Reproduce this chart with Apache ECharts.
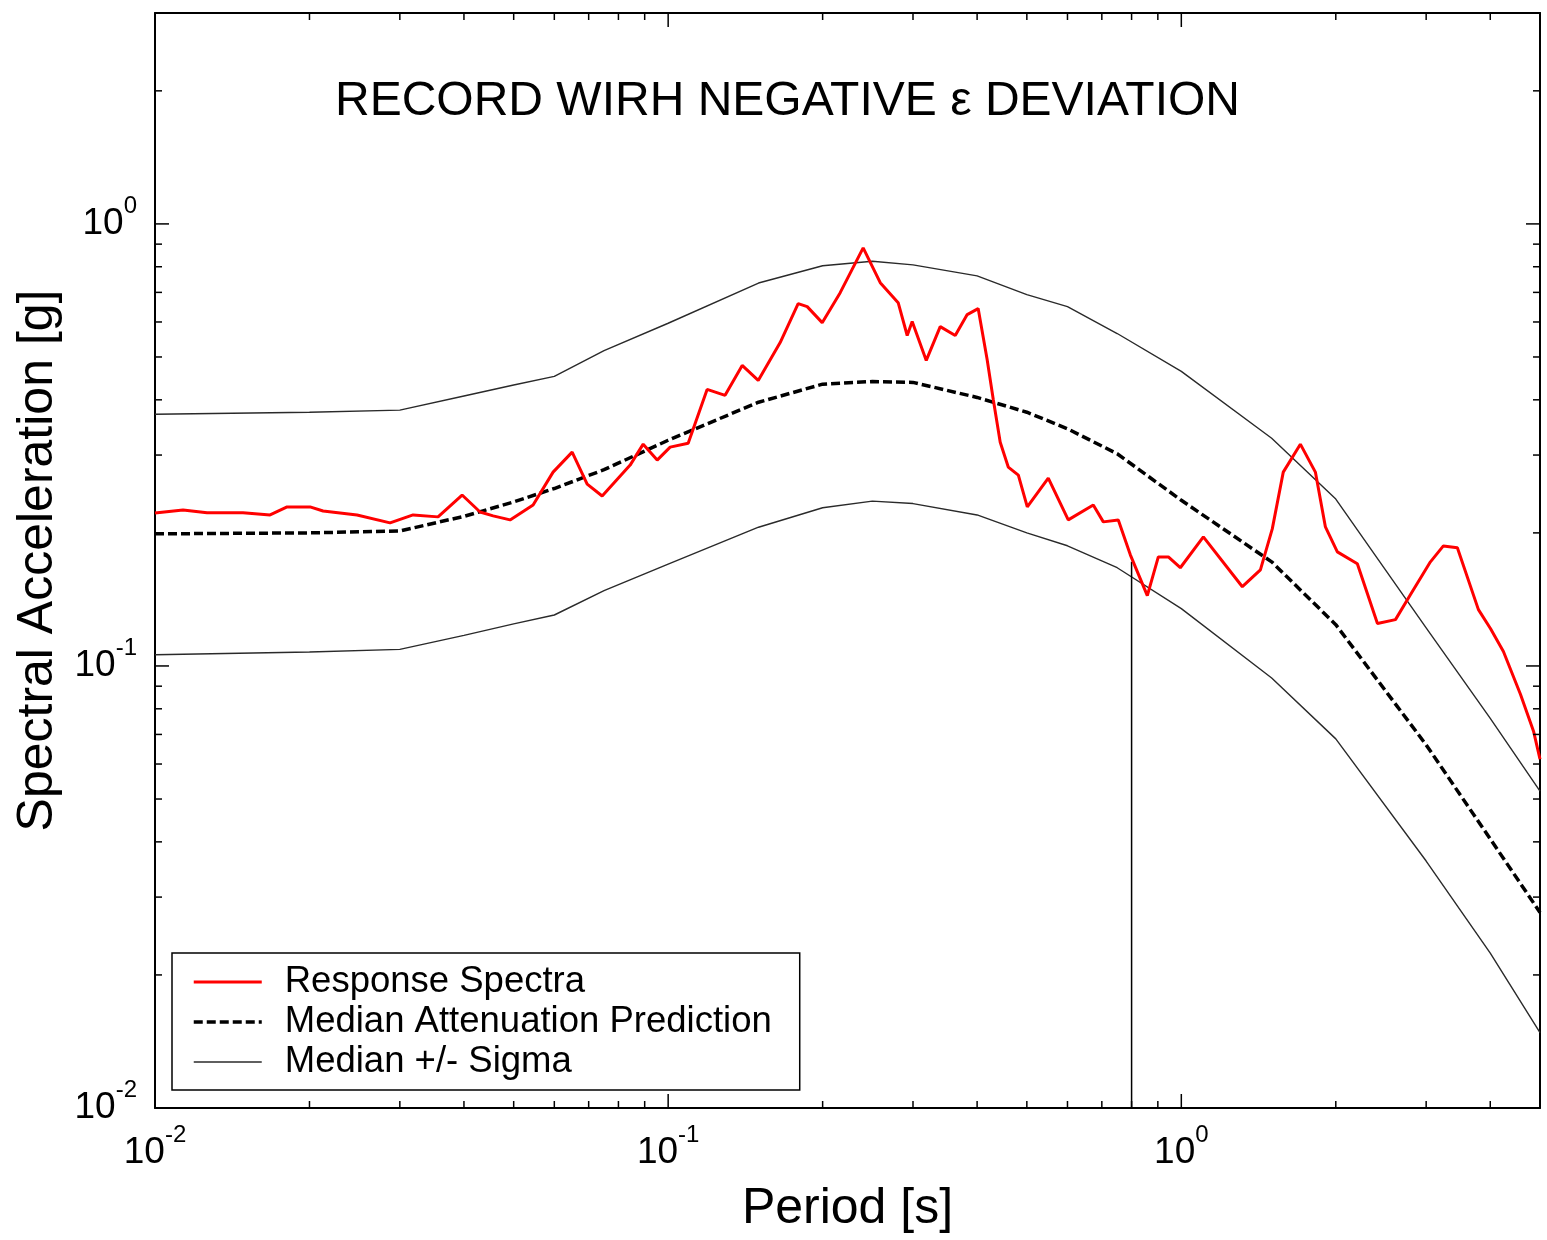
<!DOCTYPE html>
<html>
<head>
<meta charset="utf-8">
<title>Record with negative epsilon deviation</title>
<script src="https://cdn.jsdelivr.net/npm/echarts@6/dist/echarts.min.js"></script>
<style>
  html, body { margin: 0; padding: 0; background: #fff; }
  #chart { width: 1547px; height: 1240px; }
</style>
</head>
<body>
<div id="chart"></div>
<script>
// recorded response spectrum (period [s], Sa [g])
const recordPeriod = [0.01, 0.01134, 0.01263, 0.01484, 0.01676, 0.01809, 0.02005, 0.02126, 0.02476, 0.02871,
  0.03184, 0.03561, 0.03967, 0.043, 0.0456, 0.0492, 0.05455, 0.05967, 0.065, 0.06953,
  0.07437, 0.08432, 0.0894, 0.09519, 0.1009, 0.1094, 0.1191, 0.1291, 0.1394, 0.1498,
  0.1653, 0.1792, 0.1866, 0.1996, 0.2164, 0.2399, 0.259, 0.2807, 0.2923, 0.2989,
  0.3184, 0.339, 0.3626, 0.3826, 0.4019, 0.4184, 0.43, 0.4437, 0.46, 0.4813,
  0.501, 0.5505, 0.6021, 0.6737, 0.7047, 0.7537, 0.7955, 0.8585, 0.902, 0.9434,
  0.9955, 1.104, 1.315, 1.426, 1.504, 1.58, 1.706, 1.825, 1.909, 2.014,
  2.203, 2.411, 2.614, 2.795, 3.058, 3.241, 3.451, 3.793, 4.003, 4.243,
  4.58, 4.857, 5.0];
const recordSa = [0.2219, 0.2254, 0.222, 0.222, 0.2196, 0.229, 0.229, 0.2242, 0.2196, 0.2107,
  0.2196, 0.2174, 0.2436, 0.223, 0.2185, 0.214, 0.2312, 0.2745, 0.3046, 0.2579,
  0.2424, 0.2847, 0.3175, 0.2922, 0.3126, 0.3191, 0.4222, 0.4095, 0.4784, 0.4426,
  0.5391, 0.6601, 0.65, 0.5979, 0.6989, 0.8828, 0.7362, 0.6635, 0.5592, 0.6012,
  0.4911, 0.5856, 0.5592, 0.6235, 0.6433, 0.4936, 0.4011, 0.3208, 0.2818, 0.2703,
  0.229, 0.2661, 0.214, 0.2312, 0.2118, 0.214, 0.1784, 0.1442, 0.1765, 0.1765,
  0.1668, 0.1959, 0.1511, 0.165, 0.2042, 0.2745, 0.3175, 0.2745, 0.2063, 0.1812,
  0.1703, 0.1247, 0.1273, 0.1449, 0.172, 0.1869, 0.185, 0.1341, 0.1215, 0.1078,
  0.0863, 0.0712, 0.0615];

// attenuation model
const modelPeriod = [0.01, 0.02, 0.03, 0.04, 0.05, 0.06, 0.075, 0.1, 0.15, 0.2, 0.25,
  0.3, 0.4, 0.5, 0.6, 0.75, 1.0, 1.5, 2.0, 3.0, 4.0, 5.0];
const medianSa = [0.199, 0.2, 0.202, 0.218, 0.235, 0.252, 0.278, 0.324, 0.395, 0.434, 0.44,
  0.438, 0.405, 0.375, 0.344, 0.302, 0.237, 0.172, 0.124, 0.0663, 0.0406, 0.0277];
const plusSigmaSa = [0.371, 0.375, 0.379, 0.408, 0.432, 0.452, 0.517, 0.596, 0.735, 0.804, 0.823,
  0.808, 0.763, 0.692, 0.65, 0.565, 0.464, 0.3275, 0.2385, 0.122, 0.0761, 0.0521];
const minusSigmaSa = [0.106, 0.1075, 0.109, 0.1173, 0.1245, 0.1304, 0.148, 0.17, 0.206, 0.228, 0.236,
  0.233, 0.2196, 0.2, 0.187, 0.1668, 0.1348, 0.0939, 0.0684, 0.0362, 0.0224, 0.0148];

// vertical marker at the period of interest
const markerPeriod = [0.8, 0.8];
const markerSa = [0.01, 0.172];

// axis ticks
const majorTicks = [0.01, 0.1, 1];
const minorTicksX = [0.02, 0.03, 0.04, 0.05, 0.06, 0.07, 0.08, 0.09,
  0.2, 0.3, 0.4, 0.5, 0.6, 0.7, 0.8, 0.9, 2, 3, 4];
const minorTicksY = [0.02, 0.03, 0.04, 0.05, 0.06, 0.07, 0.08, 0.09,
  0.2, 0.3, 0.4, 0.5, 0.6, 0.7, 0.8, 0.9, 2];

const font = "'Liberation Sans', Arial, sans-serif";
const zip = (xs, ys) => xs.map((x, i) => [x, ys[i]]);

// 10^n labels, blank for anything that is not a power of ten
const powerLabel = (v) => {
  const lg = Math.log10(v);
  const p = Math.round(lg);
  if (Math.abs(lg - p) > 1e-6) return '';
  return '{b|10}{s|' + p + '}';
};
const labelRich = {
  b: { fontSize: 37, lineHeight: 60, fontFamily: font, color: '#000' },
  s: { fontSize: 24, lineHeight: 26, verticalAlign: 'top', fontFamily: font, color: '#000' }
};

// [x, y, kind(0 = x tick, 1 = y tick), length]
const tickData = [
  ...majorTicks.map(v => [v, 1, 0, 14]),
  ...minorTicksX.map(v => [v, 1, 0, 7]),
  ...majorTicks.map(v => [1, v, 1, 14]),
  ...minorTicksY.map(v => [1, v, 1, 7])
];

const axisLine = { show: true, onZero: false, lineStyle: { color: '#000', width: 2 } };

const chart = echarts.init(document.getElementById('chart'), null, { renderer: 'canvas' });

const option = {
  animation: false,
  backgroundColor: '#fff',
  title: {
    text: 'RECORD WIRH NEGATIVE ε DEVIATION',
    left: 335,
    top: 78,
    padding: 0,
    textStyle: { fontSize: 48, fontWeight: 'normal', fontFamily: font, color: '#000' }
  },
  grid: { left: 155, right: 7, top: 13, bottom: 132, containLabel: false, outerBoundsMode: 'none' },
  legend: {
    data: ['Response Spectra', 'Median Attenuation Prediction', 'Median +/- Sigma'],
    orient: 'vertical',
    left: 172,
    top: 953,
    padding: [9, 28, 8, 20],
    itemGap: 0,
    itemWidth: 68,
    itemHeight: 14,
    backgroundColor: '#fff',
    borderColor: '#000',
    borderWidth: 1.5,
    borderRadius: 0,
    selectedMode: false,
    itemStyle: { color: 'rgba(0,0,0,0)', borderWidth: 0 },
    lineStyle: { width: 'inherit' },
    textStyle: { fontSize: 36.5, fontFamily: font, color: '#000', lineHeight: 40, padding: [0, 0, 0, 18] }
  },
  xAxis: [
    {
      type: 'log', logBase: 10, min: 0.01, max: 5, position: 'bottom',
      axisLine: axisLine,
      axisTick: { show: false },
      minorTick: { show: false },
      splitLine: { show: false },
      axisLabel: { margin: 15, formatter: powerLabel, rich: labelRich, showMinLabel: true, showMaxLabel: true },
      name: 'Period [s]',
      nameLocation: 'middle',
      nameGap: 76,
      nameTextStyle: { fontSize: 50, fontFamily: font, color: '#000' }
    },
    {
      type: 'log', logBase: 10, min: 0.01, max: 5, position: 'top',
      axisLine: axisLine,
      axisTick: { show: false },
      axisLabel: { show: false },
      splitLine: { show: false }
    }
  ],
  yAxis: [
    {
      type: 'log', logBase: 10, min: 0.01, max: 3, position: 'left',
      axisLine: axisLine,
      axisTick: { show: false },
      minorTick: { show: false },
      splitLine: { show: false },
      axisLabel: { margin: 18, formatter: powerLabel, rich: labelRich, showMinLabel: true, showMaxLabel: true },
      name: 'Spectral Acceleration [g]',
      nameLocation: 'middle',
      nameGap: 90,
      nameTextStyle: { fontSize: 50, fontFamily: font, color: '#000' }
    },
    {
      type: 'log', logBase: 10, min: 0.01, max: 3, position: 'right',
      axisLine: axisLine,
      axisTick: { show: false },
      axisLabel: { show: false },
      splitLine: { show: false }
    }
  ],
  series: [
    {
      name: 'Median +/- Sigma',
      type: 'line',
      data: zip(modelPeriod, plusSigmaSa),
      symbol: 'none',
      lineStyle: { color: '#2a2a2a', width: 1.4 },
      z: 2
    },
    {
      name: 'Median +/- Sigma',
      type: 'line',
      data: zip(modelPeriod, minusSigmaSa),
      symbol: 'none',
      lineStyle: { color: '#2a2a2a', width: 1.4 },
      z: 2
    },
    {
      name: 'Median Attenuation Prediction',
      type: 'line',
      data: zip(modelPeriod, medianSa),
      symbol: 'none',
      lineStyle: { color: '#000', width: 3.5, type: [9, 4] },
      z: 3
    },
    {
      name: 'Response Spectra',
      type: 'line',
      data: zip(recordPeriod, recordSa),
      symbol: 'none',
      lineStyle: { color: '#ff0000', width: 3 },
      z: 4
    },
    {
      type: 'line',
      data: zip(markerPeriod, markerSa),
      symbol: 'none',
      silent: true,
      lineStyle: { color: '#000', width: 1.5 },
      z: 2
    },
    {
      // minor and major ticks on all four sides, pointing inward
      type: 'custom',
      data: tickData,
      silent: true,
      clip: false,
      z: 6,
      renderItem: (params, api) => {
        const cs = params.coordSys;
        const kind = api.value(2);
        const len = api.value(3);
        const style = { stroke: '#000', lineWidth: 1.5 };
        if (kind === 0) {
          const px = api.coord([api.value(0), 1])[0];
          const yb = cs.y + cs.height;
          return {
            type: 'group',
            children: [
              { type: 'line', shape: { x1: px, y1: yb, x2: px, y2: yb - len }, style },
              { type: 'line', shape: { x1: px, y1: cs.y, x2: px, y2: cs.y + len }, style }
            ]
          };
        }
        const py = api.coord([1, api.value(1)])[1];
        const xr = cs.x + cs.width;
        return {
          type: 'group',
          children: [
            { type: 'line', shape: { x1: cs.x, y1: py, x2: cs.x + len, y2: py }, style },
            { type: 'line', shape: { x1: xr, y1: py, x2: xr - len, y2: py }, style }
          ]
        };
      }
    }
  ]
};

chart.setOption(option);
</script>
</body>
</html>
